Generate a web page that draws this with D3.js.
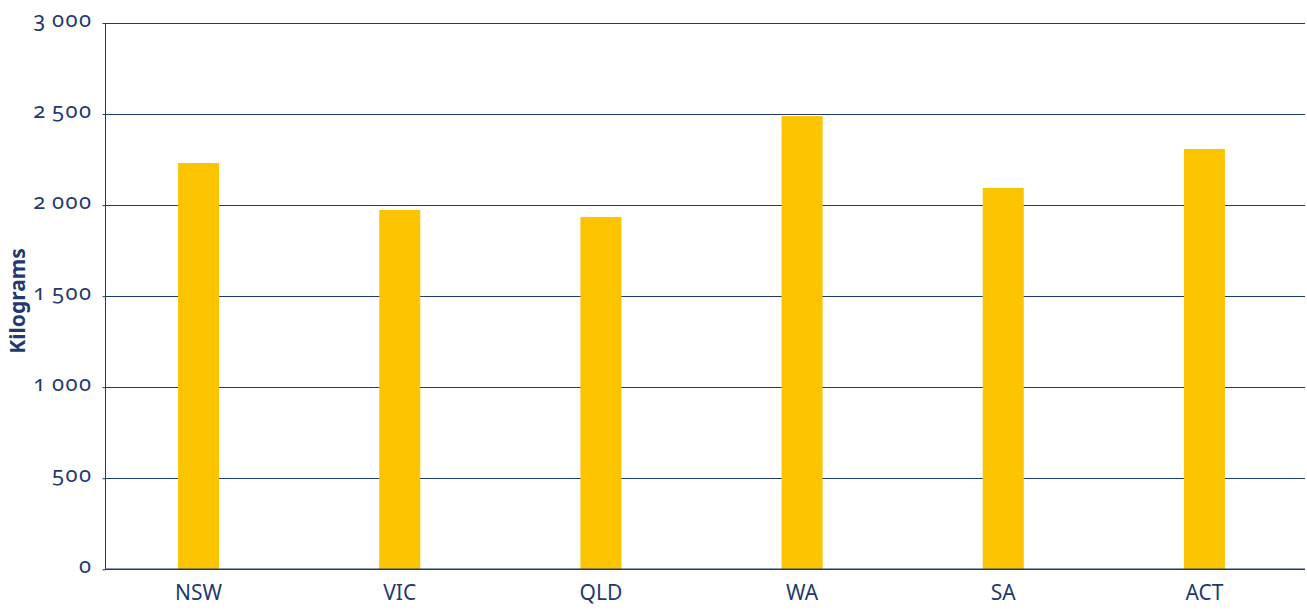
<!DOCTYPE html>
<html>
<head>
<meta charset="utf-8">
<script src="https://cdn.jsdelivr.net/npm/d3@7"></script>
<style>
  body { margin: 0; background: #fff; }
  svg text { font-family: "Noto Sans", "Open Sans", sans-serif; fill: #1f3a70; }
  .ytick text { font-variant-numeric: oldstyle-nums; font-feature-settings: "onum" 1; letter-spacing: 1.5px; }
</style>
</head>
<body>
<svg id="chart"></svg>
<script>
const states = ["NSW", "VIC", "QLD", "WA", "SA", "ACT"];
const kilograms = [2231, 1973, 1935, 2489, 2094, 2308];
const yTicks = [0, 500, 1000, 1500, 2000, 2500, 3000];

const width = 1307, height = 610;
const navy = "#1f3a70";

let svg = d3.select("#chart")
    .attr("width", width)
    .attr("height", height);

// ranges
const x = d3.scaleBand()
    .domain(states)
    .range([98, 1305])
    .paddingInner(0.796)
    .paddingOuter(0.398);

const y = d3.scaleLinear()
    .domain([0, 3000])
    .range([569.3, 23]);

// gridlines
svg.append("g")
    .selectAll("line")
    .data(yTicks.filter(d => d > 0))
    .enter().append("line")
    .attr("x1", 105)
    .attr("x2", 1305)
    .attr("y1", d => Math.round(y(d)) + 0.5)
    .attr("y2", d => Math.round(y(d)) + 0.5)
    .attr("stroke", navy)
    .attr("stroke-width", 1.1);

// bars
svg.append("g")
    .selectAll(".bar")
    .data(states)
    .enter().append("rect")
    .attr("class", "bar")
    .attr("x", d => x(d))
    .attr("width", x.bandwidth())
    .attr("y", (d, i) => y(kilograms[i]))
    .attr("height", (d, i) => y(0) - y(kilograms[i]))
    .attr("fill", "#fcc400");

// y axis
let yAxis = svg.append("g")
    .attr("class", "ytick")
    .attr("transform", "translate(105.5,0)")
    .call(d3.axisLeft(y)
        .tickValues(yTicks)
        .tickSize(3)
        .tickPadding(10)
        .tickFormat(d => d3.format(",")(d).replace(",", "\u2009")));
yAxis.select(".domain").attr("stroke", navy).attr("d", "M0," + y(3000) + "V" + y(0));
yAxis.selectAll(".tick line").attr("stroke", navy);
yAxis.selectAll("text").style("font-size", "22px").attr("dy", "0.15em");

// x axis
let xAxis = svg.append("g")
    .attr("transform", "translate(0," + y(0) + ")")
    .call(d3.axisBottom(x).tickSize(0).tickPadding(16));
xAxis.select(".domain").attr("stroke", navy).attr("stroke-width", 1.6)
    .attr("d", "M105,0H1305");
xAxis.selectAll("text").style("font-size", "21px");

// y label
svg.append("text")
    .attr("transform", "translate(25,301) rotate(-90)")
    .attr("text-anchor", "middle")
    .style("font-size", "21px")
    .style("font-weight", "bold")
    .text("Kilograms");
</script>
</body>
</html>
